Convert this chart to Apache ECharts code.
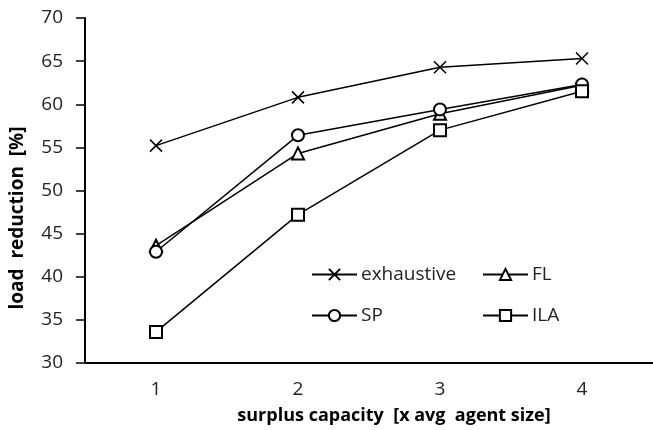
<!DOCTYPE html>
<html>
<head>
<meta charset="utf-8">
<script src="https://cdn.jsdelivr.net/npm/echarts@6/dist/echarts.min.js"></script>
<style>
  html, body { margin: 0; padding: 0; background: #fff; }
  #chart { width: 653px; height: 430px; }
</style>
</head>
<body>
<div id="chart"></div>
<script>
// surplus capacity categories
const categories = ['1', '2', '3', '4'];

// load reduction [%] per method
const exhaustive = [55.2, 60.8, 64.3, 65.3];
const fl = [43.6, 54.3, 58.9, 62.2];
const sp = [42.9, 56.4, 59.4, 62.3];
const ila = [33.6, 47.2, 57.0, 61.5];

const font = 'Open Sans';
const crossPath = 'path://M0,0L10,10M10,0L0,10';

const chart = echarts.init(document.getElementById('chart'));

function lineSeries(name, data, symbol) {
    return {
        name: name,
        type: 'line',
        data: data,
        symbol: symbol,
        symbolSize: 12,
        showAllSymbol: true,
        lineStyle: { color: '#000', width: 1.5 },
        itemStyle: { color: '#000', borderColor: '#000', borderWidth: 1.5 },
        animation: false
    };
}

// one legend block per item so they sit in a 2x2 grid inside the plot
function legendAt(name, left, top) {
    return {
        data: [name],
        left: left,
        top: top,
        itemWidth: 45,
        itemHeight: 14,
        itemGap: 0,
        textStyle: { fontFamily: font, fontSize: 19, color: '#222', padding: [0, 0, 0, -1] }
    };
}

chart.setOption({
    backgroundColor: '#fff',
    animation: false,
    grid: { left: 85, right: -6, top: 18, bottom: 67 },
    legend: [
        legendAt('exhaustive', 306, 260),
        legendAt('FL', 477, 260),
        legendAt('SP', 306, 301),
        legendAt('ILA', 477, 301)
    ],
    xAxis: {
        type: 'category',
        data: categories,
        boundaryGap: true,
        name: 'surplus capacity  [x avg  agent size]',
        nameLocation: 'middle',
        nameGap: 44,
        nameTextStyle: {
            fontFamily: font, fontSize: 18, fontWeight: 'bold', color: '#000',
            padding: [0, 0, 0, 50]
        },
        axisLine: { lineStyle: { color: '#000', width: 2 } },
        axisTick: { show: false },
        axisLabel: { fontFamily: font, fontSize: 19, color: '#222', margin: 17 },
        splitLine: { show: false }
    },
    yAxis: {
        type: 'value',
        min: 30,
        max: 70,
        interval: 5,
        name: 'load  reduction  [%]',
        nameLocation: 'middle',
        nameGap: 58,
        nameTextStyle: {
            fontFamily: font, fontSize: 19, fontWeight: 'bold', color: '#000',
            padding: [0, 55, 0, 0]
        },
        axisLine: { show: true, lineStyle: { color: '#000', width: 2 } },
        axisTick: { show: true, inside: false, length: 9, lineStyle: { color: '#000', width: 1.5 } },
        axisLabel: { fontFamily: font, fontSize: 19, color: '#222', margin: 22 },
        splitLine: { show: false }
    },
    series: [
        lineSeries('exhaustive', exhaustive, crossPath),
        lineSeries('FL', fl, 'emptyTriangle'),
        lineSeries('SP', sp, 'emptyCircle'),
        lineSeries('ILA', ila, 'emptyRect')
    ]
});
</script>
</body>
</html>
